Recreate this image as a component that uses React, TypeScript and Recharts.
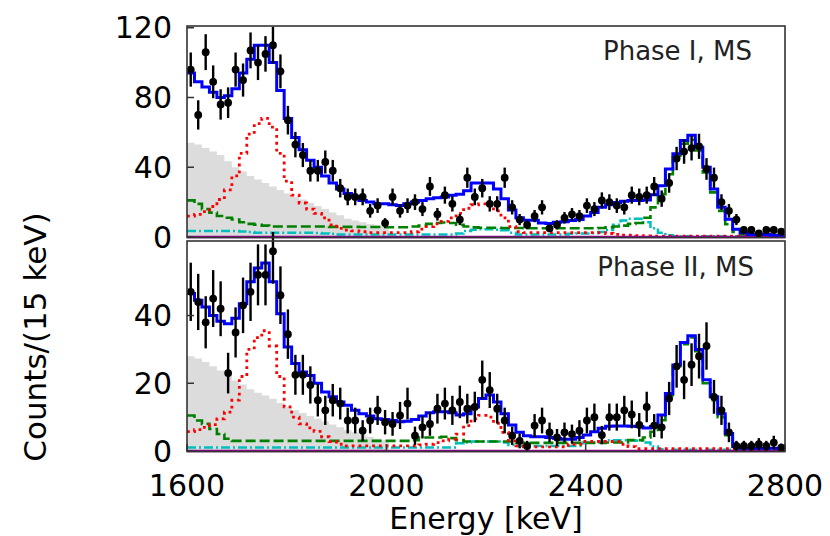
import React from 'react';
import {
  ComposedChart,
  XAxis,
  YAxis,
  Line,
  Area,
  Scatter,
  ErrorBar,
  ReferenceLine,
} from 'recharts';

// binning: 15 keV bins from 1600 to 2800 keV
const BIN_LO = 1600;
const BIN_W = 15;
const N_BINS = 80;

const xTicks = [1600, 2000, 2400, 2800];
const yTicksTop = [0, 40, 80, 120];
const yTicksBottom = [0, 20, 40];

// ---- Phase I, MS ----
const countsTop = [
  96, 70, 106, 89, 76, 77, 96, 90, 107, 100,
  105, 110, 95, 67, 53, 47, 38, 38, 43, 38,
  28, 23, 23, 23, 15, 18, 8, 23, 15, 18,
  20, 16, 29, 13, 24, 19, 10, 34, 23, 28,
  19, 19, 34, 17, 10, 7, 12, 17, 5, 7,
  11, 13, 12, 18, 16, 21, 20, 18, 17, 24,
  23, 24, 29, 22, 31, 45, 49, 51, 52, 39,
  34, 20, 15, 10, 4, 4, 2, 4, 4, 3,
];
const errTop = [
  9.8, 8.4, 10.3, 9.4, 8.7, 8.8, 9.8, 9.5, 10.3, 10,
  10.2, 10.5, 9.7, 8.2, 7.3, 6.9, 6.2, 6.2, 6.6, 6.2,
  5.3, 4.8, 4.8, 4.8, 3.9, 4.2, 2.8, 4.8, 3.9, 4.2,
  4.5, 4, 5.4, 3.6, 4.9, 4.4, 3.2, 5.8, 4.8, 5.3,
  4.4, 4.4, 5.8, 4.1, 3.2, 2.6, 3.5, 4.1, 2.2, 2.6,
  3.3, 3.6, 3.5, 4.2, 4, 4.6, 4.5, 4.2, 4.1, 4.9,
  4.8, 4.9, 5.4, 4.7, 5.6, 6.7, 7, 7.1, 7.2, 6.2,
  5.8, 4.5, 3.9, 3.2, 2, 2, 1.4, 2, 2, 1.7,
];
const totalTop = [
  94, 89, 86, 83, 80, 81, 85, 94, 102, 110,
  110, 100, 84, 68, 57, 50, 44, 40, 35, 31,
  27.5, 25, 23, 21, 20, 19, 19, 18.5, 18, 19,
  20, 21, 22, 22.5, 23, 24, 24.5, 26.5, 31, 31,
  31, 27.5, 22, 15.5, 11, 9.6, 9.6, 8, 7.7, 8.5,
  8.8, 9.5, 10, 12, 14, 17, 18.5, 19.8, 20.5, 21,
  21, 21.2, 24.2, 29.4, 39, 47.7, 55.4, 58.3, 51.5, 40,
  27.5, 17, 10.2, 4.4, 2.5, 1.5, 1.5, 1.5, 1, 1,
];
const redTop = [
  12, 13, 14.5, 17.5, 21.5, 27, 35, 48, 59, 65,
  68, 63, 48, 32, 24, 19.5, 16, 13.5, 11, 7,
  5, 4, 3.5, 3, 2.5, 2.5, 2.5, 2.5, 2.5, 2.5,
  3, 4.5, 6, 7.5, 9, 11, 13.5, 16.5, 18.5, 19,
  18, 15, 11, 6, 3, 2.5, 2.5, 2.5, 2.5, 2.5,
  2.5, 2.5, 2.5, 2.5, 2.5, 2.5, 2, 1.5, 1, 1,
  0.8, 0.6, 0.5, 0.5, 0.5, 0.5, 0.5, 0.5, 0.5, 0.5,
  0.5, 0.5, 0.5, 0.5, 0.5, 0.5, 0.5, 0.5, 0.5, 0.5,
];
const greenTop = [
  21, 19, 16, 14, 12, 11, 10, 8.5, 7.5, 7,
  6.5, 6, 6, 6, 6, 6, 6, 6, 6, 5.8,
  5.8, 5.8, 5.8, 5.7, 5.7, 5.7, 5.6, 5.6, 5.6, 5.6,
  6, 6.5, 7.5, 8, 8.3, 8, 7, 6, 5.5, 5.3,
  5.3, 5.3, 5.2, 5.2, 5.2, 5, 5, 5, 5, 5,
  5, 5, 5, 5, 5, 5.2, 5.5, 6, 6.5, 7.5,
  8, 11, 17, 24.6, 36, 45.8, 53.5, 55.8, 49.6, 37,
  25.6, 15, 7.3, 2.9, 1.5, 1, 1, 1, 1, 1,
];
const cyanTop = [
  3.5, 3.5, 3.5, 3.5, 3.5, 3.5, 3.5, 3.2, 2.8, 2.5,
  2.5, 2.5, 2.5, 2.5, 2.5, 2.5, 2.5, 2.3, 2, 1.8,
  1.5, 1.5, 1.5, 1.5, 1.5, 1.5, 1.5, 1.5, 1.5, 1.5,
  1.5, 1.5, 1.5, 1.5, 1.5, 1.5, 2, 3.5, 4.2, 4.4,
  4.4, 4.2, 3.8, 2.5, 1.5, 1.5, 1.5, 1.5, 1.5, 1.5,
  1.5, 1.8, 2, 2, 2.2, 2.8, 4, 7, 9.5, 10.5,
  10.5, 8.5, 5, 2.5, 1, 0.5, 0.4, 0.4, 0.4, 0.4,
  0.4, 0.4, 0.4, 0.4, 0.4, 0.4, 0.4, 0.4, 0.4, 0.4,
];
// grey background component, only non-zero below ~2005 keV
const grayTop = [
  54, 53, 51, 49, 47, 43.5, 40, 37.5, 35, 33,
  31, 29, 27, 25, 23, 21.5, 19.5, 17.8, 16, 14,
  12.5, 10.5, 9.5, 8.5, 7.5, 6.8, 6.3,
];

// ---- Phase II, MS ----
const countsBottom = [
  47, 44, 38, 45, 42, 23, 35, 43, 47, 52,
  52, 59, 46, 34.5, 22.5, 22.5, 19.5, 15, 12, 15,
  14, 9, 9, 6, 9, 12, 8.5, 8, 10.5, 14,
  4.5, 7, 8, 12.5, 14, 12, 14.5, 12.5, 13, 21,
  18, 12.5, 9, 4.5, 3, 1.5, 7.5, 9, 5.5, 4,
  5.5, 5, 6, 9, 10, 4.7, 10, 10, 12, 10.8,
  7.7, 13, 7.5, 7, 15.5, 25, 21, 25.5, 28, 31,
  16, 12, 5.5, 1.5, 1.5, 1.5, 2, 1.5, 2.5, 1,
];
const errBottom = [
  8.6, 8.3, 7.7, 8.4, 8.1, 6, 7.4, 8.2, 8.6, 9,
  9, 9.6, 8.5, 7.3, 5.9, 5.9, 5.5, 4.8, 4.3, 4.8,
  4.7, 3.8, 3.8, 3.1, 3.8, 4.3, 3.6, 3.5, 4, 4.7,
  2.7, 3.3, 3.5, 4.4, 4.7, 4.3, 4.8, 4.4, 4.5, 5.7,
  5.3, 4.4, 3.8, 2.7, 2.2, 1.5, 3.4, 3.8, 2.9, 2.5,
  2.9, 2.8, 3.1, 3.8, 4, 2.7, 4, 4, 4.3, 4.1,
  3.5, 4.5, 3.4, 3.3, 4.9, 6.3, 5.7, 6.3, 6.6, 7,
  5, 4.3, 2.9, 1.5, 1.5, 1.5, 1.8, 1.5, 2, 1.2,
];
const totalBottom = [
  46.5, 44.5, 42.5, 40, 38.3, 37.6, 39.2, 43.5, 50, 54,
  55.5, 50, 40.5, 30.7, 25.8, 23.3, 22.3, 20, 17.4, 16,
  14.5, 13.5, 12, 11, 10.3, 9.5, 9.3, 9, 8.6, 8.8,
  9.3, 10.3, 11.3, 11.6, 11.6, 11.3, 10.6, 11, 13, 15.5,
  16.5, 14.5, 11, 7.7, 5.5, 4.5, 4.2, 4.2, 4, 3.8,
  3.5, 3.5, 4, 4.7, 5.7, 6.7, 7.3, 7.4, 7.4, 7.3,
  7.2, 6.8, 7.2, 10.6, 17, 25.4, 32, 34, 30, 21,
  16, 11, 5.2, 1.3, 0.8, 0.8, 0.8, 0.8, 0.8, 0.8,
];
const redBottom = [
  5.7, 6.3, 7, 7.8, 9.5, 11.5, 15, 22, 30, 33.5,
  35.5, 31, 22, 13, 10, 8, 6.8, 5.8, 4.2, 2.8,
  2, 1.5, 1.5, 1.5, 1.5, 1.5, 1.5, 1.5, 1.5, 1.5,
  1.5, 1.8, 2, 2.5, 3, 3.5, 5, 7.5, 9.5, 10.5,
  10, 8.2, 5.5, 3, 1.5, 1.2, 1.2, 1.2, 1.2, 1.2,
  1.2, 2, 2, 2.8, 2.8, 2.8, 2.8, 2.8, 2, 1.3,
  0.7, 0.7, 0.7, 0.7, 0.7, 0.7, 0.7, 0.7, 0.7, 0.7,
  0.7, 0.7, 0.7, 0.7, 0.7, 0.7, 0.7, 0.7, 0.7, 0.7,
];
const greenBottom = [
  10.5, 9, 8, 6.5, 5, 3.6, 3, 3, 3, 3,
  3, 3, 3, 3, 3, 3, 3, 3, 3, 3,
  3, 3, 3, 3, 3, 3, 3, 3, 3, 3,
  3.2, 4, 4, 4, 4.2, 3.8, 3.2, 2.8, 2.8, 2.8,
  2.8, 2.8, 2.8, 2.8, 2.4, 2.4, 2.4, 2.4, 2.4, 2.4,
  2.4, 2.4, 2.4, 2.4, 2.4, 2.4, 2.5, 2.5, 2.5, 3.2,
  3.2, 4, 5.7, 9.1, 16.5, 25, 31.5, 33.5, 29.5, 20,
  15, 10, 4.7, 1.3, 0.6, 0.6, 0.6, 0.6, 0.6, 0.6,
];
const cyanBottom = [
  1, 1, 1, 1, 1, 1, 1, 1, 1, 1,
  1, 1, 1, 1, 1, 1, 1, 1, 1, 1,
  1, 1, 1, 1, 1, 1, 1, 1, 1, 1,
  1, 1, 1, 1, 1, 1, 2.3, 2.5, 2.8, 2.8,
  2.8, 2.8, 2.5, 1.8, 1.5, 1.5, 1.5, 1.5, 1.5, 1.5,
  1.5, 1.5, 1.5, 2.5, 2.5, 2.8, 3.2, 3.2, 3.2, 3.2,
  3, 2.5, 1.3, 0.5, 0.4, 0.4, 0.4, 0.4, 0.4, 0.4,
  0.4, 0.4, 0.4, 0.4, 0.4, 0.4, 0.4, 0.4, 0.4, 0.4,
];
const grayBottom = [
  28, 27.3, 26.3, 25, 23.8, 22.5, 20.8, 19.6, 18.2, 17.2,
  16.4, 15.4, 14.2, 13, 12, 11.2, 10.3, 9.5, 8.7, 7.8,
  7, 6.2, 5.5, 4.8, 4.1, 3.6, 3.2,
];

// histogram steps: one row per bin edge, last edge repeats the last bin
function stepTable(series: Record<string, number[]>) {
  const rows: any[] = [];
  for (let k = 0; k <= N_BINS; k++) {
    const row: any = { x: BIN_LO + k * BIN_W };
    for (const key of Object.keys(series)) {
      row[key] = series[key][Math.min(k, N_BINS - 1)] ?? 0;
    }
    rows.push(row);
  }
  return rows;
}

function pointTable(counts: number[], errs: number[]) {
  return counts.map((c, i) => ({ x: BIN_LO + (i + 0.5) * BIN_W, y: c, err: errs[i] }));
}

const stepsTop = stepTable({
  total: totalTop, red: redTop, green: greenTop, cyan: cyanTop, gray: grayTop,
});
const stepsBottom = stepTable({
  total: totalBottom, red: redBottom, green: greenBottom, cyan: cyanBottom, gray: grayBottom,
});
const pointsTop = pointTable(countsTop, errTop);
const pointsBottom = pointTable(countsBottom, errBottom);

const FONT = 'DejaVu Sans, sans-serif';
const tickFont = { fontSize: 30, fill: '#000', fontFamily: FONT };
const frameColor = '#333';

const Dot = (p: any) => <circle cx={p.cx} cy={p.cy} r={3.9} fill="#000" />;

interface PanelProps {
  steps: any[];
  points: any[];
  yMax: number;
  yTicks: number[];
  bottom: boolean;
  height: number;
}

const Panel: React.FC<PanelProps> = ({ steps, points, yMax, yTicks, bottom, height }) => (
  <ComposedChart
    width={830}
    height={height}
    data={steps}
    margin={bottom ? { top: 9, right: 45, bottom: 0, left: 127 } : { top: 26, right: 45, bottom: 23, left: 127 }}
  >
    <XAxis
      dataKey="x"
      type="number"
      domain={[1600, 2800]}
      ticks={xTicks}
      interval={0}
      allowDataOverflow
      hide={!bottom}
      height={85}
      axisLine={false}
      tickSize={-7}
      tickMargin={31}
      tickLine={{ stroke: frameColor, strokeWidth: 1.5 }}
      tick={tickFont}
      label={{
        value: 'Energy [keV]',
        position: 'insideBottom',
        offset: 7,
        style: { fontSize: 30, fill: '#000', fontFamily: FONT },
      }}
    />
    {bottom && (
      <XAxis
        xAxisId="top"
        orientation="top"
        type="number"
        domain={[1600, 2800]}
        ticks={xTicks}
        interval={0}
        height={0}
        axisLine={false}
        tick={false}
        tickSize={-7}
        tickLine={{ stroke: frameColor, strokeWidth: 1.5 }}
      />
    )}
    <YAxis
      type="number"
      domain={[0, yMax]}
      ticks={yTicks}
      interval={0}
      allowDataOverflow
      width={60}
      axisLine={false}
      tickSize={-7}
      tickMargin={22}
      tickLine={{ stroke: frameColor, strokeWidth: 1.5 }}
      tick={tickFont}
    />
    <Area
      dataKey="gray"
      type="stepAfter"
      stroke="none"
      fill="#dcdcdc"
      fillOpacity={1}
      isAnimationActive={false}
    />
    <Line dataKey="cyan" type="stepAfter" stroke="#00bfbf" strokeWidth={2.5} strokeDasharray="9 3 2 3" dot={false} isAnimationActive={false} />
    <Line dataKey="green" type="stepAfter" stroke="#008000" strokeWidth={2.6} strokeDasharray="10 4" dot={false} isAnimationActive={false} />
    <Line dataKey="red" type="stepAfter" stroke="#ff0000" strokeWidth={2.8} strokeDasharray="2.8 4" dot={false} isAnimationActive={false} />
    <ReferenceLine y={0} stroke="#990099" strokeWidth={2.5} />
    <Line dataKey="total" type="stepAfter" stroke="#0000ff" strokeWidth={3} dot={false} isAnimationActive={false} />
    <Scatter data={points} dataKey="y" shape={Dot} isAnimationActive={false}>
      <ErrorBar dataKey="err" direction="y" width={0} stroke="#000" strokeWidth={2.4} />
    </Scatter>
  </ComposedChart>
);

export default function App() {
  return (
    <div style={{ position: 'absolute', left: 0, top: 0, width: 830, height: 536, background: '#fff', fontFamily: FONT }}>
      <div style={{ position: 'absolute', left: 0, top: 0 }}>
        <Panel steps={stepsTop} points={pointsTop} yMax={121} yTicks={yTicksTop} bottom={false} height={260} />
      </div>
      <div style={{ position: 'absolute', left: 0, top: 232 }}>
        <Panel steps={stepsBottom} points={pointsBottom} yMax={62} yTicks={yTicksBottom} bottom height={304} />
      </div>
      <svg
        width={830}
        height={536}
        style={{ position: 'absolute', left: 0, top: 0, pointerEvents: 'none' }}
      >
        <rect x={187} y={26} width={598} height={211.5} fill="none" stroke={frameColor} strokeWidth={1.6} />
        <rect x={187} y={241} width={598} height={210.5} fill="none" stroke={frameColor} strokeWidth={1.6} />
        <text x={752} y={60} textAnchor="end" fontSize={26} fill="#222" fontFamily={FONT}>
          Phase I, MS
        </text>
        <text x={754} y={276} textAnchor="end" fontSize={26} fill="#222" fontFamily={FONT}>
          Phase II, MS
        </text>
        <text
          x={35}
          y={337}
          transform="rotate(-90 35 337)"
          textAnchor="middle"
          dominantBaseline="central"
          fontSize={31}
          fill="#000"
          fontFamily={FONT}
        >
          Counts/(15 keV)
        </text>
      </svg>
    </div>
  );
}
